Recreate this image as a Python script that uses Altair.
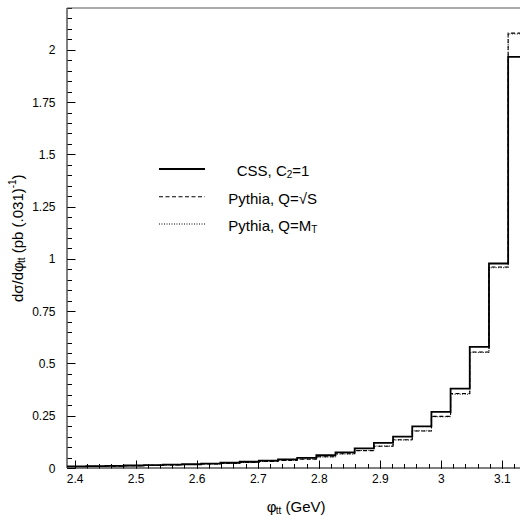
import altair as alt
import pandas as pd

# ---------------- data ----------------
bin_edges = [2.3876, 2.4190, 2.4504, 2.4819, 2.5133, 2.5447, 2.5761, 2.6075,
             2.6389, 2.6704, 2.7018, 2.7332, 2.7646, 2.7960, 2.8274, 2.8588,
             2.8903, 2.9217, 2.9531, 2.9845, 3.0159, 3.0473, 3.0788, 3.1102,
             3.1416]
css = [0.008, 0.009, 0.010, 0.012, 0.014, 0.016, 0.018, 0.021, 0.025, 0.030,
       0.035, 0.041, 0.048, 0.061, 0.075, 0.094, 0.120, 0.150, 0.199, 0.268,
       0.380, 0.579, 0.978, 1.966]
pythia_sqrt_s = [0.007, 0.008, 0.009, 0.011, 0.013, 0.015, 0.017, 0.019, 0.022,
                 0.027, 0.031, 0.036, 0.042, 0.054, 0.068, 0.083, 0.104, 0.135,
                 0.177, 0.247, 0.356, 0.555, 0.961, 2.080]
pythia_mt = [0.007, 0.008, 0.010, 0.011, 0.012, 0.015, 0.017, 0.020, 0.023,
             0.026, 0.031, 0.037, 0.043, 0.053, 0.067, 0.084, 0.105, 0.134,
             0.178, 0.245, 0.353, 0.553, 0.958, 2.076]
x_major = [2.4, 2.5, 2.6, 2.7, 2.8, 2.9, 3.0, 3.1]
x_minor = [round(2.40 + 0.02 * i, 2) for i in range(37)]
y_major = [0, 0.25, 0.5, 0.75, 1, 1.25, 1.5, 1.75, 2]
y_minor = [round(0.05 * i, 2) for i in range(45)]

W, H = 453, 460
FONT = "Liberation Sans"
MAJ, MIN = 8, 4.5


def step_df(vals):
    rows = [{"x": bin_edges[i], "y": vals[i]} for i in range(len(vals))]
    rows.append({"x": bin_edges[len(vals)], "y": vals[-1]})
    return pd.DataFrame(rows)


xs = alt.Scale(domain=[2.3876, 3.1296], nice=False, zero=False)
ys = alt.Scale(domain=[0, 2.2], nice=False, zero=True)
dummy = pd.DataFrame({"d": [0]})

# major axes: ticks pointing into the plot (axis shifted inward by tick length)
x_axis_major = alt.Axis(values=x_major, format=".3~g", orient="bottom",
                        ticks=True, tickSize=MAJ, tickColor="black",
                        tickWidth=1, offset=-MAJ, domain=False, grid=False,
                        labelFont=FONT, labelFontSize=12, labelPadding=5,
                        labelColor="black", labelFlush=False,
                        labelOverlap=False, title=None)
y_axis_major = alt.Axis(values=y_major, format=".3~g", orient="left",
                        ticks=True, tickSize=MAJ, tickColor="black",
                        tickWidth=1, offset=-MAJ, domain=False, grid=False,
                        labelFont=FONT, labelFontSize=12, labelPadding=12,
                        labelColor="black", labelFlush=False,
                        labelOverlap=False, title=None)
# minor tick axes
x_axis_minor = alt.Axis(values=x_minor, orient="bottom", ticks=True,
                        tickSize=MIN, tickColor="black", tickWidth=1,
                        offset=-MIN, domain=False, grid=False, labels=False,
                        title=None)
y_axis_minor = alt.Axis(values=y_minor, orient="left", ticks=True,
                        tickSize=MIN, tickColor="black", tickWidth=1,
                        offset=-MIN, domain=False, grid=False, labels=False,
                        title=None)

# histograms
h_mt = alt.Chart(step_df(pythia_mt)).mark_line(
    interpolate="step-after", color="black", strokeWidth=1,
    strokeDash=[1, 1.5], clip=True
).encode(x=alt.X("x:Q", scale=xs, axis=x_axis_major),
         y=alt.Y("y:Q", scale=ys, axis=y_axis_major))
h_s = alt.Chart(step_df(pythia_sqrt_s)).mark_line(
    interpolate="step-after", color="black", strokeWidth=1.1,
    strokeDash=[4, 2.5], clip=True
).encode(x=alt.X("x:Q", scale=xs, axis=x_axis_minor),
         y=alt.Y("y:Q", scale=ys, axis=y_axis_minor))
h_css = alt.Chart(step_df(css)).mark_line(
    interpolate="step-after", color="black", strokeWidth=1.8, clip=True
).encode(x=alt.X("x:Q", scale=xs, axis=None),
         y=alt.Y("y:Q", scale=ys, axis=None))

# frame lines
bottom_line = alt.Chart(dummy).mark_rule(color="black", strokeWidth=1).encode(
    x=alt.value(0), x2=alt.value(W), y=alt.value(H))
left_line = alt.Chart(dummy).mark_rule(color="black", strokeWidth=1).encode(
    x=alt.value(0), y=alt.value(0), y2=alt.value(H))
top_line = alt.Chart(dummy).mark_rule(color="#555555", strokeWidth=1).encode(
    x=alt.value(0), x2=alt.value(W), y=alt.value(0))


def txt(s, x, y, size=15, angle=None):
    kw = dict(align="left", baseline="middle", font=FONT, fontSize=size,
              color="black")
    if angle is not None:
        kw["angle"] = angle
    return alt.Chart(dummy).mark_text(**kw).encode(
        x=alt.value(x), y=alt.value(y), text=alt.value(s))


def leg_line(y, dash, width):
    kw = dict(color="black", strokeWidth=width)
    if dash:
        kw["strokeDash"] = dash
    return alt.Chart(dummy).mark_rule(**kw).encode(
        x=alt.value(92), x2=alt.value(138), y=alt.value(y))


legend = [
    leg_line(161, None, 1.8),
    leg_line(188.7, [4, 2.5], 1.1),
    leg_line(216, [1, 1.5], 1),
    txt("CSS, C", 169.7, 163),
    txt("2", 219.7, 167, size=10),
    txt("=1", 225.3, 163),
    txt("Pythia, Q=\u221aS", 161.3, 190.5),
    txt("Pythia, Q=M", 161.3, 218),
    txt("T", 244.3, 222, size=10),
]

# axis titles built from pieces (sub/superscripts)
x_title = [
    txt("\u03c6", 199.7, 499),
    txt("tt", 208.7, 503, size=10),
    txt("(GeV)", 218.5, 499),
]
yx = -49
y_title = [
    txt("d\u03c3/d\u03c6", yx, 294, angle=270),
    txt("tt", yx + 4, 255.1, size=10, angle=270),
    txt("(pb (.031)", yx, 245.3, angle=270),
    txt("-1", yx - 5, 180.3, size=10, angle=270),
    txt(")", yx, 171.4, angle=270),
]

chart = alt.layer(
    h_mt, h_s, h_css,
    bottom_line, left_line, top_line,
    *legend, *x_title, *y_title
).resolve_axis(x="independent", y="independent").properties(
    width=W, height=H,
    autosize="none",
    padding={"left": 67, "top": 8, "right": 0, "bottom": 53},
    background="white",
).configure_view(stroke=None)

chart.save("out.html", embed_options={"renderer": "svg", "actions": False})
